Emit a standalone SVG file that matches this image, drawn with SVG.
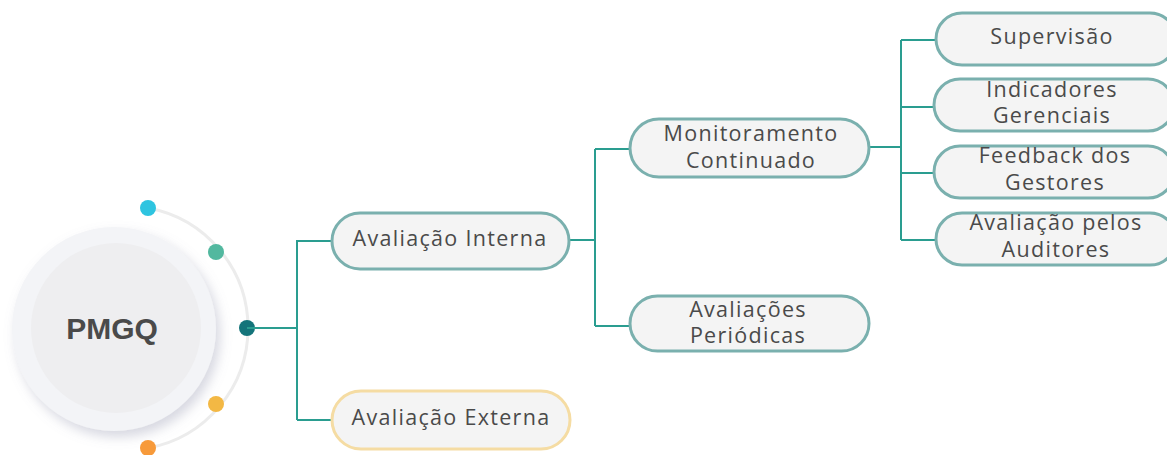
<svg xmlns="http://www.w3.org/2000/svg" width="1167" height="455" viewBox="0 0 1167 455">
<defs>
<filter id="sh" x="-30%" y="-30%" width="160%" height="160%">
<feDropShadow dx="4" dy="6" stdDeviation="6" flood-color="#8a8fa8" flood-opacity="0.35"/>
</filter>
<style>
.node rect{fill:#f4f4f4;stroke:#7ab0ae;stroke-width:3}
.node.ext rect{stroke:#f5dca3}
.node text{font-family:"Open Sans","Noto Sans",sans-serif;font-size:21.5px;fill:#4a4a4a;text-anchor:middle;letter-spacing:1.3px}
.conn path{fill:none;stroke:#2a9d90;stroke-width:2}
</style>
</defs>
<rect width="1167" height="455" fill="#ffffff"/>
<g id="center">
<path d="M148,208 A122,122 0 0 1 148,448" fill="none" stroke="#ececec" stroke-width="3"/>
<circle cx="114" cy="329" r="102" fill="#f3f4f7" filter="url(#sh)"/>
<circle cx="116" cy="328" r="85" fill="#eeeef0"/>
<text x="112" y="339" font-family="'Liberation Sans',Arial,sans-serif" font-weight="bold" font-size="30" fill="#4a4a4a" text-anchor="middle">PMGQ</text>
<circle cx="148" cy="208" r="8" fill="#2ec4e0"/>
<circle cx="216" cy="252" r="8" fill="#52b89f"/>
<circle cx="247" cy="328" r="8" fill="#14747a"/>
<circle cx="216" cy="404" r="8" fill="#f3b844"/>
<circle cx="148" cy="448" r="8" fill="#f79a3a"/>
</g>
<g class="conn" id="connectors">
<path d="M247,328 H297 M297,240 V420 M297,241 H332 M297,420 H332"/>
<path d="M569,240 H595 M595,149 V326 M595,149 H630 M595,326 H630"/>
<path d="M869,147 H901 M901,40 V240 M901,40 H935 M901,107 H933 M901,173 H933 M901,240 H936"/>
</g>
<g class="node" id="n-interna">
<rect x="332" y="213" width="237" height="56" rx="28"/>
<text x="450" y="246">Avaliação Interna</text>
</g>
<g class="node ext" id="n-externa">
<rect x="332" y="391" width="238" height="58" rx="29"/>
<text x="451" y="425">Avaliação Externa</text>
</g>
<g class="node" id="n-monit">
<rect x="630" y="119" width="239" height="58" rx="29"/>
<text x="751" y="141">Monitoramento</text>
<text x="751" y="168">Continuado</text>
</g>
<g class="node" id="n-periodicas">
<rect x="630" y="296" width="239" height="55" rx="27.5"/>
<text x="748" y="317">Avaliações</text>
<text x="748" y="343">Periódicas</text>
</g>
<g class="node" id="n-supervisao">
<rect x="936" y="13" width="240" height="52" rx="26"/>
<text x="1052" y="44">Supervisão</text>
</g>
<g class="node" id="n-indicadores">
<rect x="934" y="79" width="240" height="52" rx="26"/>
<text x="1052" y="97">Indicadores</text>
<text x="1052" y="123">Gerenciais</text>
</g>
<g class="node" id="n-feedback">
<rect x="934" y="146" width="240" height="52" rx="26"/>
<text x="1055" y="163">Feedback dos</text>
<text x="1055" y="190">Gestores</text>
</g>
<g class="node" id="n-auditores">
<rect x="936" y="213" width="240" height="52" rx="26"/>
<text x="1056" y="230">Avaliação pelos</text>
<text x="1056" y="257">Auditores</text>
</g>
</svg>
